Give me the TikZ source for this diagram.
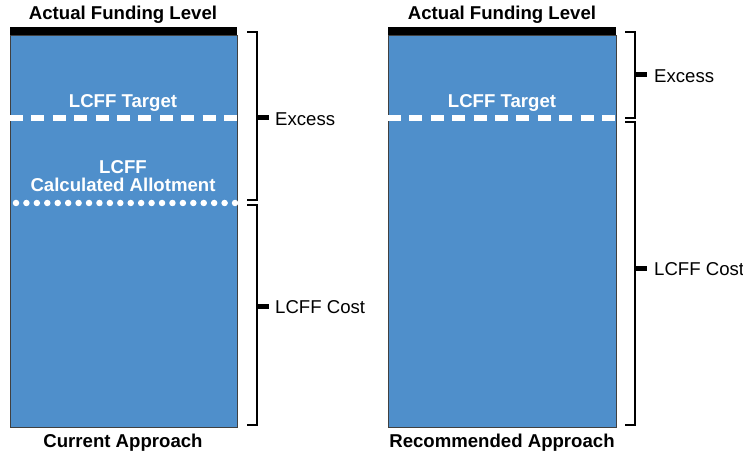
\documentclass[tikz,border=0pt]{standalone}
\usepackage{fontspec}
\setmainfont{Liberation Sans}
\usetikzlibrary{positioning}
\definecolor{barblue}{HTML}{4F8FCB}

\begin{document}
\begin{tikzpicture}[x=1pt,y=-1pt,
    bar/.style={rectangle,draw=black!75,line width=0.8pt,fill=barblue,inner sep=0pt,outer sep=0pt,
                minimum width=227pt,minimum height=392pt,anchor=north west},
    head/.style={font=\fontsize{18.6}{20}\selectfont\bfseries},
    inlabel/.style={font=\fontsize{18.6}{18}\selectfont\bfseries,text=white,align=center},
    side/.style={font=\fontsize{18.6}{20}\selectfont,anchor=west,inner sep=0pt},
    brace/.style={line width=2.4pt},
    tick/.style={line width=5pt},
    target/.style={white,line width=6.5pt,dash pattern=on 13pt off 8.4pt},
    allot/.style={white,line width=6.5pt,line cap=round,dash pattern=on 0pt off 10.43pt}]
  \useasboundingbox (0,0) rectangle (743,454);

  % the two bars
  \node [bar] (cur) at (10,35) {};
  \node [bar,minimum width=228pt] (rec) at (388,35) {};
  \fill (10,27) rectangle (237,35);
  \fill (388,27) rectangle (616,35);

  % titles
  \node [head] (curtop) at (123,15) {Actual Funding Level};
  \node [head] (rectop) at (502,15) {Actual Funding Level};
  \node [head] (curname) at (123,443) {Current Approach};
  \node [head] (recname) at (502,443) {Recommended Approach};

  % lines inside the bars
  \draw [target] (10,118) -- (237,118);
  \draw [target] (388,118) -- (616,118);
  \draw [allot] (16,203) -- (236,203);
  \node [inlabel] (curtarget) at (123,103) {LCFF Target};
  \node [inlabel] (rectarget) at (502,103) {LCFF Target};
  \node [inlabel] (allotment) at (123,176) {LCFF\\Calculated Allotment};

  % brackets, current approach
  \draw [brace] (247,32) -- (257,32) -- (257,200) -- (247,200);
  \draw [brace] (247,205) -- (257,205) -- (257,425) -- (247,425);
  \draw [tick] (257,118) -- (269,118);
  \draw [tick] (257,306) -- (269,306);
  \node [side] (curexcess) at (275,119) {Excess};
  \node [side] (curcost) at (275,307) {LCFF Cost};

  % brackets, recommended approach
  \draw [brace] (625,32) -- (635,32) -- (635,118) -- (625,118);
  \draw [brace] (625,122) -- (635,122) -- (635,425) -- (625,425);
  \draw [tick] (635,75) -- (647,75);
  \draw [tick] (635,268) -- (647,268);
  \node [side] (recexcess) at (654,76) {Excess};
  \node [side] (reccost) at (654,269) {LCFF Cost};
\end{tikzpicture}
\end{document}
